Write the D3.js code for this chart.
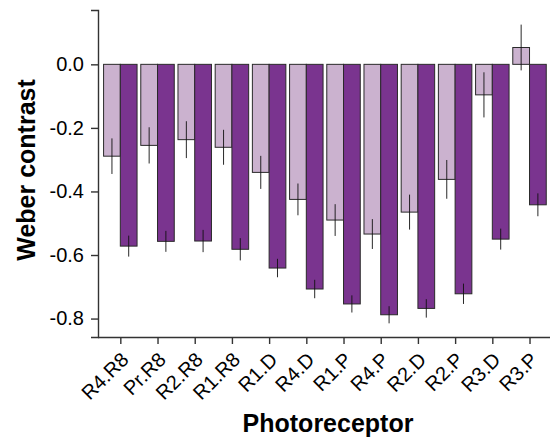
<!DOCTYPE html>
<html><head><meta charset="utf-8">
<script src="https://cdn.jsdelivr.net/npm/d3@7"></script>
<style>body{margin:0;background:#fff;} svg{display:block;font-family:"Liberation Sans",Arial,sans-serif;}</style>
</head><body>
<svg id="chart" width="550" height="439"></svg>
<script>
const categories = ["R4.R8","Pr.R8","R2.R8","R1.R8","R1.D","R4.D","R1.P","R4.P","R2.D","R2.P","R3.D","R3.P"];
const lightValues = [-0.289,-0.255,-0.237,-0.261,-0.340,-0.425,-0.490,-0.534,-0.465,-0.362,-0.096,0.053];
const lightErrors = [0.056,0.057,0.058,0.055,0.052,0.050,0.050,0.047,0.055,0.061,0.071,0.072];
const darkValues = [-0.572,-0.557,-0.556,-0.582,-0.641,-0.707,-0.754,-0.788,-0.768,-0.722,-0.550,-0.442];
const darkErrors = [0.033,0.033,0.035,0.035,0.029,0.029,0.027,0.027,0.029,0.032,0.033,0.036];
const yTicks = [0.0,-0.2,-0.4,-0.6,-0.8];
const seriesColors = ["#cbb2cf","#7a348f"];

const svg = d3.select("#chart");
const mLeft = 98, mTop = 10, mBottom = 337;
const step = 37.2;
const mRight = mLeft + step * (categories.length - 1 + 1.2);

const x = d3.scalePoint().domain(categories).range([mLeft, mRight]).padding(0.6);
const y = d3.scaleLinear().domain([-0.858, 0.171]).range([mBottom, mTop]);
const bw = step * 0.45;

const series = [
  {vals: lightValues, errs: lightErrors, color: seriesColors[0], off: -bw},
  {vals: darkValues, errs: darkErrors, color: seriesColors[1], off: 0}
];

series.forEach(s => {
  const g = svg.append("g");
  g.selectAll("rect").data(categories).join("rect")
    .attr("x", (c) => x(c) + s.off)
    .attr("width", bw)
    .attr("y", (c,i) => Math.min(y(s.vals[i]), y(0)))
    .attr("height", (c,i) => Math.abs(y(s.vals[i]) - y(0)))
    .attr("fill", s.color)
    .attr("stroke", "#2a2a2a")
    .attr("stroke-width", 1);
  g.selectAll("line").data(categories).join("line")
    .attr("x1", c => x(c) + s.off + bw/2)
    .attr("x2", c => x(c) + s.off + bw/2)
    .attr("y1", (c,i) => y(s.vals[i] - s.errs[i]))
    .attr("y2", (c,i) => y(s.vals[i] + s.errs[i]))
    .attr("stroke", "#111")
    .attr("stroke-width", 0.9);
});

const yAxis = svg.append("g").attr("transform", `translate(${mLeft},0)`)
  .call(d3.axisLeft(y).tickValues(yTicks).tickFormat(d3.format(".1f")).tickSize(7).tickPadding(7));
const xAxis = svg.append("g").attr("transform", `translate(0,${mBottom})`)
  .call(d3.axisBottom(x).tickSize(7).tickPadding(4));

[yAxis, xAxis].forEach(a => {
  a.select(".domain").attr("stroke", "#333").attr("stroke-width", 1.4);
  a.selectAll(".tick line").attr("stroke", "#333").attr("stroke-width", 1.4);
  a.selectAll(".tick text").attr("fill", "#000").style("font-size", "20px").style("font-family", "Liberation Sans, Arial, sans-serif");
});
yAxis.selectAll(".tick text").text(d => d3.format(".1f")(d).replace("−","-"));
xAxis.select(".domain").attr("d", `M${mLeft},0.5H${550}`);
xAxis.selectAll(".tick text")
  .attr("text-anchor", "end")
  .attr("x", 0).attr("y", 0).attr("dy", 0)
  .attr("transform", "translate(9,24) rotate(-45)");

svg.append("text")
  .attr("transform", `translate(35,170) rotate(-90)`)
  .attr("text-anchor", "middle")
  .style("font-size", "25px").style("font-weight", "bold")
  .text("Weber contrast");
svg.append("text")
  .attr("x", 328).attr("y", 432)
  .attr("text-anchor", "middle")
  .style("font-size", "25px").style("font-weight", "bold")
  .text("Photoreceptor");
</script>
</body></html>
